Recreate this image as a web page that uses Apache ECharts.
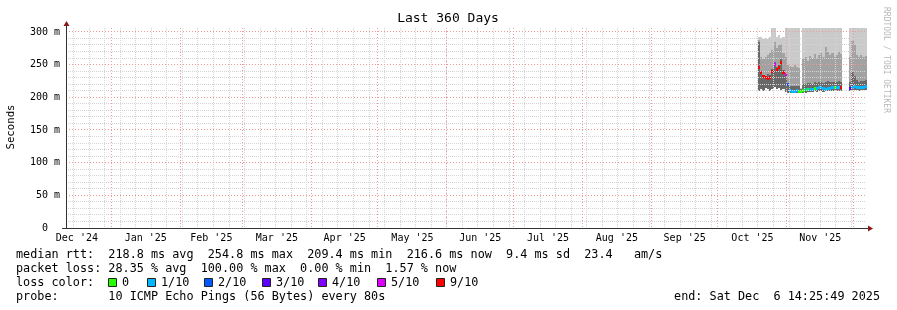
<!DOCTYPE html>
<html><head><meta charset="utf-8">
<script src="https://cdn.jsdelivr.net/npm/echarts@6/dist/echarts.min.js"></script>
<style>html,body{margin:0;padding:0;background:#fff}#c{width:897px;height:310px}</style>
</head><body><div id="c"></div>
<script>
// ---- data ----
const days = [
 '2025-10-19','2025-10-20','2025-10-21','2025-10-22','2025-10-23','2025-10-24','2025-10-25','2025-10-26','2025-10-27','2025-10-28','2025-10-29','2025-10-30','2025-10-31',
 '2025-11-01','2025-11-02','2025-11-03','2025-11-04','2025-11-05','2025-11-06','2025-11-07','2025-11-08','2025-11-09','2025-11-10','2025-11-11','2025-11-12','2025-11-13','2025-11-14','2025-11-15','2025-11-16','2025-11-17','2025-11-18','2025-11-19','2025-11-20','2025-11-21','2025-11-22','2025-11-23','2025-11-24','2025-11-25',
 '2025-11-29','2025-11-30','2025-12-01','2025-12-02','2025-12-03','2025-12-04','2025-12-05','2025-12-06'
];
const minRtt = [
 210,212,210,214,212,210,212,215,212,214,211,212,208,
 207,206,206,206,206,207,207,207,207,208,208,208,209,208,209,209,208,209,209,209,209,210,210,210,210,
 210,211,211,211,210,211,211,211
];
const darkTop = [
 285,236,234,232,236,234,244,254,246,250,258,242,232,
 222,217,218,217,218,217,212,220,221,222,222,221,223,222,224,224,222,224,225,223,224,224,223,225,224,
 224,238,232,226,224,225,225,226
];
const midTop = [
 288,262,258,262,265,268,272,285,275,280,282,268,262,
 250,248,246,250,247,245,213,258,262,256,263,260,266,260,264,268,262,277,270,265,268,262,265,270,266,
 262,286,280,265,262,264,262,263
];
const maxRtt = [
 292,292,289,290,289,292,330,330,292,295,290,292,330,
 330,330,330,330,330,330,214,330,330,330,330,330,330,330,330,330,330,330,330,330,330,330,330,330,330,
 330,330,330,330,330,330,330,330
];
const medianRtt = [
 246,238,233,231,230,231,240,251,243,246,254,239,236,
 220,211,210,209,211,210,210,211,212,212,213,213,214,214,215,215,214,213,214,214,215,216,215,216,216,
 214,216,217,216,215,216,216,217
];
const lossTenths = [
 9,9,9,9,9,9,9,5,9,9,9,9,5,
 2,1,1,1,1,0,0,0,1,0,1,1,0,1,1,1,1,1,1,1,1,0,1,1,9,
 3,1,1,1,1,1,1,1
];
const monthStarts = ['2024-12-01','2025-01-01','2025-02-01','2025-03-01','2025-04-01','2025-05-01','2025-06-01','2025-07-01','2025-08-01','2025-09-01','2025-10-01','2025-11-01','2025-12-01'];
const monthLabels = ["Dec '24","Jan '25","Feb '25","Mar '25","Apr '25","May '25","Jun '25","Jul '25","Aug '25","Sep '25","Oct '25","Nov '25"];
const yTicks = [0,50,100,150,200,250,300];
const lossThresholds = [0,1,2,3,4,5,9];
const lossNames = ['0','1/10','2/10','3/10','4/10','5/10','9/10'];
const lossColors = ['#26ff00','#00b8ff','#0059ff','#5e00ff','#7e00ff','#dd00ff','#ff0000'];
const startTime = '2024-12-11T14:25:49Z';
const endTime = '2025-12-06T14:25:49Z';
const firstSunday = '2024-12-15';
const legendLines = [
 'median rtt:  218.8 ms avg  254.8 ms max  209.4 ms min  216.6 ms now  9.4 ms sd  23.4   am/s',
 'packet loss: 28.35 % avg  100.00 % max  0.00 % min  1.57 % now',
 'loss color:',
 'probe:       10 ICMP Echo Pings (56 Bytes) every 80s'
];
const endText = 'end: Sat Dec  6 14:25:49 2025';

// ---- build ----
const DAY = 86400000;
const tMin = Date.parse(startTime), tMax = Date.parse(endTime);
const data = days.map((d,i)=>[Date.parse(d), minRtt[i], darkTop[i], midTop[i], maxRtt[i], medianRtt[i], lossTenths[i]]);
const ms = monthStarts.map(Date.parse);
const labelPos = monthLabels.map((_,i)=>(ms[i]+ms[i+1])/2);
function lossColor(l){ let c = lossColors[0]; lossThresholds.forEach((t,i)=>{ if(l>=t) c = lossColors[i]; }); return c; }

const FONT = 'DejaVu Sans Mono';
const MINOR = '#d4d4d4', MAJOR = '#f29a9a';
const vGrid = [], hGrid = [];
for(let t = Date.parse(firstSunday); t < tMax; t += 7*DAY) vGrid.push([t, 0]);
ms.forEach(t=>{ if(t>tMin && t<tMax) vGrid.push([t, 1]); });
for(let v = 10; v <= 300; v += 10) hGrid.push([v, v % 50 ? 0 : 1]);

function renderSmoke(params, api){
  const cs = params.coordSys;
  const top = cs.y, bottom = cs.y + cs.height;
  const t = api.value(0);
  const x0 = Math.round(api.coord([t,0])[0]);
  const x1 = Math.round(api.coord([t+DAY,0])[0]);
  const w = x1 - x0;
  const Y = v => Math.round(Math.max(top, Math.min(bottom, api.coord([t, v])[1])));
  const rect = (a,b,color) => ({type:'rect', shape:{x:x0, y:Y(b), width:w, height:Y(a)-Y(b)}, style:{fill:color}});
  const lo = api.value(1);
  const children = [
    rect(lo, api.value(4), '#cacaca'),
    rect(lo, api.value(3), '#a2a2a2'),
    rect(lo, api.value(2), '#696969')
  ];
  const ym = api.coord([t, api.value(5)])[1];
  children.push({type:'rect', shape:{x:x0, y:Math.round(ym)-1, width:w, height:3}, style:{fill:lossColor(api.value(6))}});
  return {type:'group', children};
}
function renderVGrid(params, api){
  const cs = params.coordSys;
  const x = Math.floor(api.coord([api.value(0), 0])[0]) + 0.5;
  const major = api.value(1) === 1;
  return {type:'line', shape:{x1:x, y1:cs.y, x2:x, y2:cs.y+cs.height}, z2: major ? 2 : 1,
    style:{stroke: major ? MAJOR : MINOR, lineWidth:1, lineDash: major ? [1,2] : [1,1]}};
}
function renderHGrid(params, api){
  const cs = params.coordSys;
  const y = Math.floor(api.coord([tMin, api.value(0)])[1]) + 0.5;
  const major = api.value(1) === 1;
  return {type:'line', shape:{x1:cs.x, y1:y, x2:cs.x+cs.width, y2:y}, z2: major ? 2 : 1,
    style:{stroke: major ? MAJOR : MINOR, lineWidth:1, lineDash: major ? [1,2] : [1,1]}};
}

const graphic = [
  {type:'text', x:448, y:19, style:{text:'Last 360 Days', fontFamily:FONT, fontSize:13, fill:'#000', align:'center', verticalAlign:'middle'}},
  {type:'text', x:11, y:127, rotation:Math.PI/2, style:{text:'Seconds', fontFamily:FONT, fontSize:10.7, fill:'#000', align:'center', verticalAlign:'middle'}},
  {type:'text', x:886, y:60, rotation:-Math.PI/2, style:{text:'RRDTOOL / TOBI OETIKER', fontFamily:FONT, fontSize:8, fill:'#b8b8b8', align:'center', verticalAlign:'middle'}},
  {type:'line', shape:{x1:66.5, y1:228.5, x2:66.5, y2:25}, style:{stroke:'#333', lineWidth:1}, z:100},
  {type:'polygon', shape:{points:[[63.5,26],[69.5,26],[66.5,21]]}, style:{fill:'#8b1a1a'}, z:100},
  {type:'line', shape:{x1:62, y1:228.5, x2:869, y2:228.5}, style:{stroke:'#333', lineWidth:1}, z:100},
  {type:'polygon', shape:{points:[[868,225.5],[868,231.5],[873,228.5]]}, style:{fill:'#8b1a1a'}, z:100},
  {type:'text', x:880, y:296.5, style:{text:endText, fontFamily:FONT, fontSize:11.8, fill:'#000', align:'right', verticalAlign:'middle'}}
];
const lineY = [254.5, 268.5, 282.5, 296.5];
legendLines.forEach((s,i)=>graphic.push({type:'text', x:16, y:lineY[i], style:{text:s, fontFamily:FONT, fontSize:11.8, fill:'#000', align:'left', verticalAlign:'middle'}}));
const boxX = [108,147,204,262,318,377,436];
lossNames.forEach((n,i)=>{
  graphic.push({type:'rect', shape:{x:boxX[i]+0.5, y:278.5, width:8, height:8}, style:{fill:lossColors[i], stroke:'#222', lineWidth:1}});
  graphic.push({type:'text', x:boxX[i]+14, y:282.5, style:{text:n, fontFamily:FONT, fontSize:11.8, fill:'#000', align:'left', verticalAlign:'middle'}});
});

const chart = echarts.init(document.getElementById('c'), null, {renderer:'canvas'});
chart.setOption({
  animation:false,
  backgroundColor:'#fff',
  grid:{left:66, top:28, width:800, height:200, containLabel:false, outerBoundsMode:'none'},
  xAxis:{type:'value', min:tMin, max:tMax,
    axisLine:{show:false}, axisTick:{show:false}, splitLine:{show:false},
    axisLabel:{customValues:labelPos, fontFamily:FONT, fontSize:10, color:'#000', margin:5,
      formatter:v=>{ let b=0; labelPos.forEach((p,i)=>{ if(Math.abs(p-v)<Math.abs(labelPos[b]-v)) b=i; }); return monthLabels[b]; }}},
  yAxis:{type:'value', min:0, max:306, interval:50,
    axisLine:{show:false}, axisTick:{show:false}, splitLine:{show:false},
    axisLabel:{customValues:yTicks, fontFamily:FONT, fontSize:10, color:'#000', margin:6,
      formatter:v=> v===0 ? '0  ' : v+' m'}},
  series:[
    {type:'custom', renderItem:renderSmoke, data, encode:{x:0, y:[1,4]}, silent:true, z:2},
    {type:'custom', renderItem:renderVGrid, data:vGrid, encode:{x:0, y:1}, silent:true, z:3},
    {type:'custom', renderItem:renderHGrid, data:hGrid, encode:{y:0, x:1}, silent:true, z:3}
  ],
  graphic
});
</script></body></html>
